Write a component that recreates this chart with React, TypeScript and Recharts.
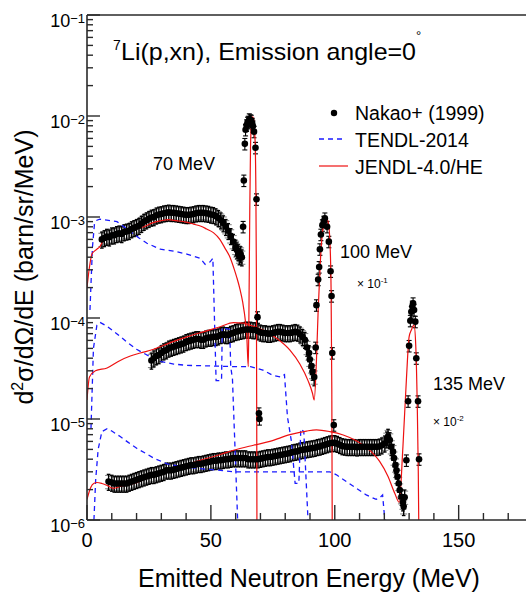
import React from 'react';
import { ComposedChart, Line, Scatter, ErrorBar, XAxis, YAxis, ReferenceLine } from 'recharts';

// Nakao+ (1999), [E (MeV), d2s/dOdE]; 100 MeV scaled x1e-1, 135 MeV scaled x1e-2
const nakao70 = [
  [6, 6.0e-4], [7, 6.2e-4], [8, 6.4e-4], [9, 6.3e-4], [10, 6.6e-4], [11, 6.6e-4], [12, 6.8e-4],
  [13, 6.9e-4], [14, 6.8e-4], [15, 7.1e-4], [16, 7.2e-4], [17, 7.3e-4], [18, 7.6e-4], [19, 7.8e-4],
  [20, 8.0e-4], [21, 8.2e-4], [22, 8.6e-4], [23, 9.0e-4], [24, 9.3e-4], [25, 9.6e-4], [26, 9.9e-4],
  [27, 1.0e-3], [28, 1.04e-3], [29, 1.06e-3], [30, 1.07e-3], [31, 1.09e-3], [32, 1.1e-3], [33, 1.11e-3],
  [34, 1.1e-3], [35, 1.1e-3], [36, 1.09e-3], [37, 1.08e-3], [38, 1.07e-3], [39, 1.06e-3], [40, 1.05e-3],
  [41, 1.05e-3], [42, 1.06e-3], [43, 1.07e-3], [44, 1.09e-3], [45, 1.1e-3], [46, 1.1e-3], [47, 1.1e-3],
  [48, 1.09e-3], [49, 1.08e-3], [50, 1.06e-3], [51, 1.05e-3], [52, 1.02e-3], [53, 9.8e-4], [54, 9.3e-4],
  [55, 8.7e-4], [56, 8.0e-4], [57, 7.3e-4], [58, 6.5e-4], [59, 5.7e-4], [60, 5.0e-4], [60.5, 4.7e-4],
  [61, 4.5e-4], [61.5, 4.1e-4], [62, 4.3e-4], [62.5, 4.0e-4],
];
const nakao70Peak = [
  [63.0, 8.0e-4], [63.3, 2.3e-3], [63.7, 5.3e-3], [64.0, 7.3e-3], [64.4, 8.1e-3], [64.8, 8.6e-3],
  [65.1, 8.8e-3], [65.5, 9.3e-3], [65.9, 9.1e-3], [66.3, 9.0e-3], [66.7, 8.4e-3], [67.0, 7.9e-3],
  [67.4, 7.0e-3], [68.0, 4.85e-3], [68.4, 1.5e-3], [68.8, 1.02e-4], [69.4, 1.14e-5], [69.6, 1.0e-5],
];
const nakao100 = [
  [26, 3.8e-5], [27, 4.0e-5], [28, 4.2e-5], [29, 4.3e-5], [30, 4.5e-5], [31, 4.7e-5], [32, 4.8e-5],
  [33, 5.0e-5], [34, 5.1e-5], [35, 5.2e-5], [36, 5.3e-5], [37, 5.4e-5], [38, 5.5e-5], [39, 5.6e-5],
  [40, 5.8e-5], [41, 5.9e-5], [42, 6.0e-5], [43, 6.1e-5], [44, 6.2e-5], [45, 6.2e-5], [46, 6.1e-5],
  [47, 6.1e-5], [48, 6.3e-5], [49, 6.4e-5], [50, 6.4e-5], [51, 6.5e-5], [52, 6.5e-5], [53, 6.6e-5],
  [54, 6.8e-5], [55, 6.9e-5], [56, 6.8e-5], [57, 6.8e-5], [58, 7.0e-5], [59, 7.1e-5], [60, 7.3e-5],
  [61, 7.4e-5], [62, 7.5e-5], [63, 7.6e-5], [64, 7.7e-5], [65, 7.7e-5], [66, 7.7e-5], [67, 7.6e-5],
  [68, 7.6e-5], [69, 7.4e-5], [70, 7.2e-5], [71, 7.1e-5], [72, 7.1e-5], [73, 7.0e-5], [74, 7.0e-5],
  [75, 7.1e-5], [76, 7.2e-5], [77, 7.3e-5], [78, 7.3e-5], [79, 7.2e-5], [80, 7.1e-5], [81, 7.1e-5],
  [82, 7.1e-5], [83, 7.2e-5], [84, 7.3e-5], [85, 7.2e-5], [86, 6.9e-5], [87, 6.5e-5], [87.9, 6.1e-5],
  [88.8, 5.1e-5], [89.6, 4.5e-5], [89.9, 3.9e-5], [90.6, 3.35e-5], [91.0, 2.95e-5], [91.7, 2.6e-5],
];
const nakao100Peak = [
  [92.3, 5.1e-5], [92.6, 1.34e-4], [93.3, 2.4e-4], [93.7, 3.2e-4], [94.0, 4.8e-4], [94.4, 6.7e-4],
  [95.0, 8.3e-4], [95.6, 9.0e-4], [96.0, 9.7e-4], [96.9, 8.0e-4], [97.6, 5.7e-4], [98.3, 2.9e-4],
  [98.7, 1.65e-4], [99.0, 4.5e-5], [99.6, 8.7e-6],
];
const nakao135 = [
  [8.7, 2.4e-6], [10, 2.35e-6], [11, 2.3e-6], [12, 2.3e-6], [13, 2.3e-6], [14, 2.3e-6], [15, 2.3e-6],
  [16, 2.3e-6], [17, 2.35e-6], [18, 2.4e-6], [19, 2.45e-6], [20, 2.5e-6], [21, 2.55e-6], [22, 2.6e-6],
  [23, 2.65e-6], [24, 2.7e-6], [25, 2.75e-6], [26, 2.8e-6], [27, 2.8e-6], [28, 2.85e-6], [29, 2.9e-6],
  [30, 2.95e-6], [31, 3.0e-6], [32, 3.1e-6], [33, 3.1e-6], [34, 3.1e-6], [35, 3.15e-6], [36, 3.2e-6],
  [37, 3.25e-6], [38, 3.3e-6], [39, 3.35e-6], [40, 3.4e-6], [41, 3.45e-6], [42, 3.5e-6], [43, 3.5e-6],
  [44, 3.55e-6], [45, 3.6e-6], [46, 3.6e-6], [47, 3.65e-6], [48, 3.7e-6], [49, 3.75e-6], [50, 3.8e-6],
  [51, 3.85e-6], [52, 3.85e-6], [53, 3.9e-6], [54, 3.9e-6], [55, 3.95e-6], [56, 4.0e-6], [57, 4.0e-6],
  [58, 4.05e-6], [59, 4.1e-6], [60, 4.1e-6], [61, 4.1e-6], [62, 4.1e-6], [63, 4.1e-6], [64, 4.1e-6],
  [65, 4.0e-6], [66, 4.0e-6], [67, 4.0e-6], [68, 4.0e-6], [69, 4.0e-6], [70, 4.05e-6], [71, 4.1e-6],
  [72, 4.15e-6], [73, 4.2e-6], [74, 4.2e-6], [75, 4.25e-6], [76, 4.3e-6], [77, 4.35e-6], [78, 4.4e-6],
  [79, 4.45e-6], [80, 4.5e-6], [81, 4.55e-6], [82, 4.6e-6], [83, 4.7e-6], [84, 4.75e-6], [85, 4.8e-6],
  [86, 4.9e-6], [87, 4.95e-6], [88, 5.0e-6], [89, 5.05e-6], [90, 5.1e-6], [91, 5.15e-6], [92, 5.2e-6],
  [93, 5.3e-6], [94, 5.35e-6], [95, 5.45e-6], [96, 5.55e-6], [97, 5.65e-6], [98, 5.75e-6], [99, 5.8e-6],
  [100, 5.8e-6], [101, 5.7e-6], [102, 5.55e-6], [103, 5.4e-6], [104, 5.35e-6], [105, 5.3e-6],
  [106, 5.3e-6], [107, 5.3e-6], [108, 5.3e-6], [109, 5.25e-6], [110, 5.3e-6], [111, 5.3e-6],
  [112, 5.3e-6], [113, 5.3e-6], [114, 5.3e-6], [115, 5.3e-6], [116, 5.3e-6], [117, 5.3e-6],
  [118, 5.35e-6], [119, 5.5e-6], [120.2, 5.75e-6], [121, 6.3e-6], [121.5, 6.7e-6], [122.2, 6.2e-6],
  [122.8, 5.3e-6], [123.5, 4.75e-6], [123.9, 4.1e-6], [124.5, 3.5e-6], [124.9, 3.1e-6], [125.3, 2.7e-6],
  [125.8, 2.3e-6], [126.2, 1.98e-6], [126.9, 1.7e-6], [127.5, 1.5e-6], [127.8, 1.35e-6], [128.2, 1.68e-6],
];
const nakao135Peak = [
  [128.9, 3.9e-6], [129.6, 1.5e-5], [130.0, 5.3e-5], [130.5, 9.4e-5], [130.9, 1.15e-4], [131.3, 1.3e-4],
  [131.6, 1.4e-4], [132.0, 1.2e-4], [132.5, 9.2e-5], [132.9, 4.0e-5], [133.6, 1.5e-5], [134.0, 4.0e-6],
];

// TENDL-2014
const tendl70 = [
  [1.2, 1.2e-4], [2.2, 5.0e-4], [3.0, 8.5e-4], [4.0, 9.3e-4], [5.2, 9.5e-4], [8, 9.3e-4], [12.1, 9.0e-4],
  [14, 8.3e-4], [17.5, 7.2e-4], [21, 6.2e-4], [24.2, 5.5e-4], [29.6, 4.8e-4], [34.9, 4.6e-4],
  [40.3, 4.3e-4], [45.7, 3.9e-4], [47.7, 3.4e-4], [49.7, 3.6e-4], [50.8, 3.9e-4], [52.1, 2.4e-5],
  [54.3, 2.4e-5], [54.6, 8.0e-5], [57.6, 7.7e-5], [58.0, 3.3e-5], [58.7, 2.5e-5], [60.8, 1.0e-6],
];
const tendl100 = [
  [1.6, 8.0e-6], [2.6, 5.0e-5], [4.0, 8.5e-5], [5.4, 9.0e-5], [8, 8.3e-5], [12, 7.0e-5], [16, 5.8e-5],
  [20, 4.9e-5], [25, 4.2e-5], [30, 3.7e-5], [35, 3.5e-5], [40, 3.4e-5], [50, 3.35e-5], [60, 3.3e-5],
  [66, 3.3e-5], [71, 3.05e-5], [75, 2.7e-5], [78.4, 2.6e-5], [79.7, 2.75e-5], [80.9, 1.05e-5],
  [82.5, 6.0e-6], [84, 2.3e-6], [85.5, 2.3e-6], [86.3, 8.0e-6], [87.5, 7.5e-6], [89.2, 1.0e-6],
];
const tendl135 = [
  [2.8, 1.0e-6], [3.5, 2.5e-6], [4.5, 5.0e-6], [6.0, 7.5e-6], [8.1, 8.0e-6], [10, 7.6e-6],
  [13.4, 6.7e-6], [16.5, 5.9e-6], [20.2, 5.1e-6], [23.5, 4.6e-6], [26.9, 4.1e-6], [32.3, 3.6e-6],
  [37.6, 3.4e-6], [44.4, 3.25e-6], [53.8, 3.1e-6], [59.1, 3.0e-6], [70, 3.0e-6], [80, 3.0e-6],
  [90, 3.0e-6], [98, 3.0e-6], [100.7, 2.8e-6], [104.7, 2.4e-6], [108.7, 2.06e-6], [112.7, 1.77e-6],
  [116.7, 1.6e-6], [118, 1.65e-6], [119.3, 1.77e-6], [120.2, 1.0e-6],
];

// JENDL-4.0/HE
const jendl70 = [
  [0, 2.0e-4], [1, 3.2e-4], [2, 4.3e-4], [3, 4.6e-4], [4, 4.8e-4], [5.2, 5.1e-4], [6.6, 5.9e-4],
  [8, 6.4e-4], [10.6, 6.9e-4], [13.4, 7.1e-4], [16, 7.4e-4], [20, 7.6e-4], [23, 8.0e-4], [26.7, 8.8e-4],
  [30, 9.2e-4], [33, 9.4e-4], [36, 9.2e-4], [40, 8.9e-4], [43, 8.5e-4], [46, 8.1e-4], [48.3, 7.6e-4],
  [51, 7.0e-4], [53.6, 6.0e-4], [55.5, 5.0e-4], [57.7, 4.0e-4], [59.5, 3.0e-4], [60.5, 2.5e-4],
  [61.8, 1.9e-4], [62.8, 1.45e-4], [64.0, 9.0e-5], [64.5, 6.5e-5], [65.1, 3.3e-5], [65.4, 1.5e-4],
  [65.7, 1.2e-3], [66.0, 5.0e-3], [66.4, 8.8e-3], [66.8, 9.8e-3], [67.3, 9.2e-3], [67.8, 6.0e-3],
  [68.1, 2.5e-3], [68.35, 3.0e-4], [68.5, 1.0e-5], [68.6, 5.0e-7],
];
const jendl100 = [
  [0, 1.54e-5], [1, 2.6e-5], [3.4, 3.0e-5], [8.1, 3.2e-5], [13.4, 3.8e-5], [17.5, 4.2e-5],
  [21.5, 4.5e-5], [26.9, 4.9e-5], [33.6, 5.7e-5], [40.3, 6.5e-5], [47, 7.3e-5], [53.8, 8.2e-5],
  [59.1, 9.0e-5], [63.2, 8.9e-5], [65.7, 8.5e-5], [71.1, 7.6e-5], [76.5, 6.3e-5], [81.9, 4.8e-5],
  [85.9, 3.5e-5], [89.2, 2.4e-5], [91.0, 1.8e-5], [91.7, 1.54e-5], [92.6, 3.8e-5], [93.3, 1.2e-4],
  [94.2, 3.7e-4], [95.0, 7.0e-4], [96.0, 9.2e-4], [96.6, 9.7e-4], [97.3, 9.0e-4], [98.0, 6.0e-4],
  [98.5, 2.0e-4], [98.8, 2.0e-5], [99.0, 5.0e-7],
];
const jendl135 = [
  [0, 1.6e-6], [1.5, 2.1e-6], [2.7, 2.3e-6], [4, 2.35e-6], [6, 2.3e-6], [8.1, 2.2e-6], [10.8, 2.06e-6],
  [13.4, 2.15e-6], [17.5, 2.25e-6], [22.8, 2.5e-6], [29.6, 2.9e-6], [37.6, 3.4e-6], [45.7, 3.9e-6],
  [53.8, 4.45e-6], [59.1, 4.9e-6], [67.2, 5.5e-6], [73.8, 6.0e-6], [81.9, 7.0e-6], [88.6, 7.6e-6],
  [92.6, 7.8e-6], [98, 7.5e-6], [103.4, 6.95e-6], [108.7, 6.1e-6], [114.1, 4.9e-6], [118.1, 3.8e-6],
  [121.5, 2.7e-6], [124.2, 1.84e-6], [126.0, 1.5e-6], [127.5, 5.3e-6], [128.9, 2.45e-5], [130.0, 6.5e-5],
  [130.9, 7.6e-5], [132.0, 8.5e-5], [132.7, 5.2e-5], [133.3, 1.3e-5], [133.7, 3.0e-6], [134.0, 5.0e-7],
];

const xMajorTicks = [0, 50, 100, 150];
const xMinorTicks = [10, 20, 30, 40, 60, 70, 80, 90, 110, 120, 130, 140, 160, 170];
const yDecades = [1e-6, 1e-5, 1e-4, 1e-3, 1e-2, 1e-1];
const yMinorSteps = [2, 3, 4, 5, 6, 7, 8, 9];

const STAT_ERR = 0.18; // relative statistical error (black bars)
const SYS_ERR = 0.15; // relative systematic error (grey boxes)
const PEAK_ERR = 0.13;

const RED = '#ee1111';
const BLUE = '#1a1aff';
const AXIS = '#2a2a2a';
const FONT = '"Liberation Sans", Arial, Helvetica, sans-serif';

const toPoints = (arr: number[][], stat: number, sys: number) =>
  arr.map(([x, y]) => ({ x, y, err: [y * stat, y * stat], sys: [y * sys, y * sys] }));
const toLine = (arr: number[][]) => arr.map(([x, y]) => ({ x, y }));

const yTicks = [
  ...yDecades,
  ...yDecades.slice(0, -1).flatMap((d) => yMinorSteps.map((m) => d * m)),
].sort((a, b) => a - b);
const xTicks = [...xMajorTicks, ...xMinorTicks].sort((a, b) => a - b);

const XTick = (props: any) => {
  const { x, y, payload } = props;
  const major = xMajorTicks.includes(payload.value);
  return (
    <g>
      <line x1={x} x2={x} y1={y} y2={y - (major ? 15 : 7)} stroke={AXIS} strokeWidth={1.4} />
      {major && (
        <text x={x} y={y + 27} textAnchor="middle" fontSize={20} fontFamily={FONT} fill="#000">
          {payload.value}
        </text>
      )}
    </g>
  );
};

const YTick = (props: any) => {
  const { x, y, payload } = props;
  const lg = Math.log10(payload.value);
  const major = Math.abs(lg - Math.round(lg)) < 1e-6;
  return (
    <g>
      <line x1={x} x2={x + (major ? 13 : 6)} y1={y} y2={y} stroke={AXIS} strokeWidth={1.4} />
      {major && (
        <text x={x - 2} y={y + 12} textAnchor="end" fontSize={18} fontFamily={FONT} fill="#000">
          10
          <tspan fontSize={13} dy={-4}>
            {'\u2212' + Math.abs(Math.round(lg))}
          </tspan>
        </text>
      )}
    </g>
  );
};

const Dot = (p: any) => <circle cx={p.cx} cy={p.cy} r={3.3} fill="#000" />;

export default function App() {
  const dense = [nakao70, nakao100, nakao135].map((a) => toPoints(a, STAT_ERR, SYS_ERR));
  const peaks = [nakao70Peak, nakao100Peak, nakao135Peak].map((a) => toPoints(a, PEAK_ERR, PEAK_ERR));
  const tendl = [tendl70, tendl100, tendl135].map(toLine);
  const jendl = [jendl70, jendl100, jendl135].map(toLine);

  return (
    <div style={{ position: 'absolute', left: 0, top: 0, width: 526, height: 594, overflow: 'hidden', background: '#fff' }}>
      <ComposedChart width={545} height={594} margin={{ top: 15, right: 12, bottom: 0, left: 0 }}>
        <XAxis
          type="number"
          dataKey="x"
          domain={[0, 180]}
          ticks={xTicks}
          interval={0}
          tick={<XTick />}
          tickLine={false}
          tickSize={0}
          tickMargin={0}
          height={74}
          allowDataOverflow
          axisLine={{ stroke: AXIS, strokeWidth: 1.6 }}
        />
        <YAxis
          type="number"
          dataKey="y"
          scale="log"
          domain={[1e-6, 1e-1]}
          ticks={yTicks}
          interval={0}
          tick={<YTick />}
          tickLine={false}
          tickSize={0}
          tickMargin={0}
          width={87}
          allowDataOverflow
          axisLine={{ stroke: AXIS, strokeWidth: 1.6 }}
        />
        <ReferenceLine y={1e-1} stroke={AXIS} strokeWidth={1.6} />

        {dense.map((d, i) => (
          <Scatter key={'d' + i} data={d} dataKey="y" shape={<Dot />} isAnimationActive={false}>
            <ErrorBar dataKey="sys" direction="y" width={3.5} stroke="#8a8a8a" strokeWidth={1.1} />
            <ErrorBar dataKey="err" direction="y" width={1.8} stroke="#000" strokeWidth={1.3} />
          </Scatter>
        ))}
        {peaks.map((d, i) => (
          <Scatter key={'p' + i} data={d} dataKey="y" shape={<Dot />} isAnimationActive={false}>
            <ErrorBar dataKey="err" direction="y" width={2.5} stroke="#000" strokeWidth={1.1} />
          </Scatter>
        ))}
        {tendl.map((d, i) => (
          <Line
            key={'t' + i}
            data={d}
            dataKey="y"
            type="linear"
            stroke={BLUE}
            strokeWidth={1.3}
            strokeDasharray="5 4"
            dot={false}
            isAnimationActive={false}
          />
        ))}
        {jendl.map((d, i) => (
          <Line
            key={'j' + i}
            data={d}
            dataKey="y"
            type="monotone"
            stroke={RED}
            strokeWidth={1.2}
            dot={false}
            isAnimationActive={false}
          />
        ))}
      </ComposedChart>

      <svg
        width={526}
        height={594}
        style={{ position: 'absolute', left: 0, top: 0, pointerEvents: 'none' }}
        fontFamily={FONT}
        fill="#000"
      >
        <text x={113} y={50} fontSize={14}>7</text>
        <text x={121} y={60} fontSize={24} textLength={295} lengthAdjust="spacingAndGlyphs">
          Li(p,xn), Emission angle=0
        </text>
        <text x={416} y={40} fontSize={13}>°</text>

        <circle cx={334} cy={113} r={3.2} fill="#000" />
        <text x={355} y={120} fontSize={19.5}>Nakao+ (1999)</text>
        <line x1={319} x2={346} y1={139} y2={139} stroke={BLUE} strokeWidth={1.3} strokeDasharray="5 4" />
        <text x={355} y={147} fontSize={19.5}>TENDL-2014</text>
        <line x1={319} x2={348} y1={166} y2={166} stroke={RED} strokeWidth={1.2} />
        <text x={355} y={174} fontSize={19.5}>JENDL-4.0/HE</text>

        <text x={153} y={170} fontSize={18}>70 MeV</text>
        <text x={340} y={258} fontSize={18}>100 MeV</text>
        <text x={357} y={288} fontSize={12}>
          × 10<tspan fontSize={8} dy={-5}>-1</tspan>
        </text>
        <text x={433} y={390} fontSize={18}>135 MeV</text>
        <text x={433} y={426} fontSize={12}>
          × 10<tspan fontSize={8} dy={-5}>-2</tspan>
        </text>

        <text x={309} y={587} fontSize={25} textAnchor="middle">Emitted Neutron Energy (MeV)</text>
        <text transform="rotate(-90)" x={-267} y={33} fontSize={25} textAnchor="middle">
          d<tspan fontSize={16} dy={-10}>2</tspan>
          <tspan dy={10}>σ/dΩ/dE (barn/sr/MeV)</tspan>
        </text>
      </svg>
    </div>
  );
}
